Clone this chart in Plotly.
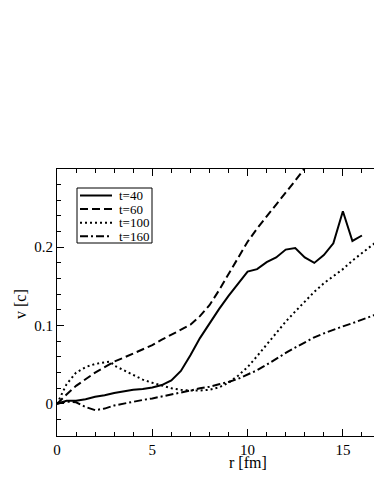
import plotly.graph_objects as go

# radial velocity profiles v(r) at several times
r_t40 = [0, 0.5, 1.0, 1.5, 2.0, 2.5, 3.0, 3.5, 4.0, 4.5, 5.0, 5.5, 6.0, 6.5, 7.0, 7.5, 8.0,
         8.5, 9.0, 9.5, 10.0, 10.5, 11.0, 11.5, 12.0, 12.5, 13.0, 13.5, 14.0, 14.5, 15.0, 15.5, 16.0]
v_t40 = [0, 0.004, 0.004, 0.006, 0.009, 0.011, 0.014, 0.016, 0.018, 0.019, 0.021, 0.024, 0.030,
         0.042, 0.062, 0.084, 0.103, 0.121, 0.138, 0.154, 0.169, 0.172, 0.181, 0.187, 0.197, 0.199,
         0.187, 0.180, 0.190, 0.205, 0.246, 0.208, 0.215]

r_t60 = [0, 0.3, 0.5, 1.0, 1.5, 2.0, 2.5, 3.0, 3.5, 4.0, 4.5, 5.0, 5.5, 6.0, 6.5, 7.0, 7.5, 8.0,
         8.5, 9.0, 9.5, 10.0, 10.5, 11.0, 11.5, 12.0, 12.5, 13.0, 13.5]
v_t60 = [0, 0.008, 0.012, 0.023, 0.032, 0.040, 0.047, 0.054, 0.059, 0.064, 0.069, 0.075, 0.082,
         0.088, 0.094, 0.101, 0.112, 0.126, 0.145, 0.166, 0.187, 0.207, 0.224, 0.239, 0.254,
         0.269, 0.285, 0.301, 0.317]

r_t100 = [0, 0.3, 0.5, 1.0, 1.5, 2.0, 2.5, 2.8, 3.0, 3.5, 4.0, 4.5, 5.0, 5.5, 6.0, 6.5, 7.0, 7.5,
          8.0, 8.5, 9.0, 9.5, 10.0, 10.5, 11.0, 11.5, 12.0, 12.5, 13.0, 13.5, 14.0, 14.5, 15.0,
          15.5, 16.0, 16.5, 17.0]
v_t100 = [0, 0.015, 0.025, 0.040, 0.047, 0.051, 0.053, 0.054, 0.049, 0.043, 0.036, 0.031, 0.027,
          0.023, 0.020, 0.018, 0.017, 0.017, 0.018, 0.021, 0.027, 0.036, 0.047, 0.061, 0.076,
          0.091, 0.105, 0.118, 0.131, 0.143, 0.154, 0.163, 0.172, 0.183, 0.193, 0.202, 0.211]

r_t160 = [0, 0.5, 1.0, 1.5, 2.0, 2.5, 3.0, 3.5, 4.0, 4.5, 5.0, 5.5, 6.0, 6.5, 7.0, 7.5, 8.0, 8.5,
          9.0, 9.5, 10.0, 10.5, 11.0, 11.5, 12.0, 12.5, 13.0, 13.5, 14.0, 14.5, 15.0, 15.5, 16.0,
          16.5, 17.0]
v_t160 = [0, 0.003, 0.002, -0.004, -0.008, -0.006, -0.002, 0.0005, 0.003, 0.005, 0.007, 0.0095,
          0.012, 0.014, 0.017, 0.020, 0.022, 0.025, 0.028, 0.032, 0.037, 0.043, 0.050, 0.058,
          0.065, 0.072, 0.079, 0.085, 0.090, 0.095, 0.099, 0.103, 0.107, 0.112, 0.117]

labels = ['t=40', 't=60', 't=100', 't=160']
dashes = ['solid', '8px,4px', '2px,3px', '8px,3px,2px,3px']
series = [(r_t40, v_t40), (r_t60, v_t60), (r_t100, v_t100), (r_t160, v_t160)]

# the page body adds an 8px margin, so the figure is 8px smaller than the window
PAD = 8
W, H = 382 - PAD, 494 - PAD
L, R, T, B = 49, 1, 161, 58
FONT = 'Liberation Serif'


def px_x(p):
    # screen pixel -> paper x
    return (p - PAD - L) / (W - L - R)


def px_y(p):
    # screen pixel -> paper y
    return (H - B - (p - PAD)) / (H - T - B)


fig = go.Figure()
for (r, v), name, dash in zip(series, labels, dashes):
    fig.add_trace(go.Scatter(x=r, y=v, mode='lines', name=name,
                             line=dict(color='black', width=2, dash=dash)))

axis_common = dict(showgrid=False, zeroline=False, showline=True, linecolor='black', linewidth=1,
                   ticks='inside', ticklen=7, tickcolor='black', tickwidth=1, automargin=False,
                   tickfont=dict(family=FONT, size=15, color='black'))

fig.update_xaxes(range=[0, 17], tick0=0, dtick=5, mirror='ticks',
                 minor=dict(dtick=1, ticks='inside', ticklen=4, tickcolor='black'),
                 **axis_common)
fig.update_yaxes(range=[-0.041, 0.2999], tick0=0, dtick=0.1, tickformat='.1~f',
                 minor=dict(dtick=0.02, ticks='inside', ticklen=4, tickcolor='black'),
                 **axis_common)

# hand-made legend box, like the original
shapes = [dict(type='rect', xref='paper', yref='paper', x0=px_x(77), x1=px_x(152),
               y0=px_y(243), y1=px_y(188), line=dict(color='black', width=1),
               fillcolor='white', layer='above')]
annotations = []
for i, (name, dash) in enumerate(zip(labels, dashes)):
    yy = px_y(195.5 + i * 13.6)
    shapes.append(dict(type='line', xref='paper', yref='paper', x0=px_x(80), x1=px_x(112),
                       y0=yy, y1=yy, line=dict(color='black', width=2, dash=dash), layer='above'))
    annotations.append(dict(text=name, xref='paper', yref='paper', x=px_x(117), y=yy,
                            xanchor='left', yanchor='middle', showarrow=False,
                            font=dict(family=FONT, size=13, color='black')))

annotations.append(dict(text='r [fm]', xref='x', yref='paper', x=10, y=0, yshift=-26,
                        xanchor='center', yanchor='middle', showarrow=False,
                        font=dict(family=FONT, size=16, color='black')))
annotations.append(dict(text='v [c]', xref='paper', yref='paper', x=px_x(20), y=px_y(304),
                        xanchor='center', yanchor='middle', showarrow=False, textangle=-90,
                        font=dict(family=FONT, size=16, color='black')))

fig.update_layout(width=W, height=H, margin=dict(l=L, r=R, t=T, b=B),
                  plot_bgcolor='white', paper_bgcolor='white', showlegend=False,
                  shapes=shapes, annotations=annotations,
                  font=dict(family=FONT, color='black'))

fig.write_html("out.html")
